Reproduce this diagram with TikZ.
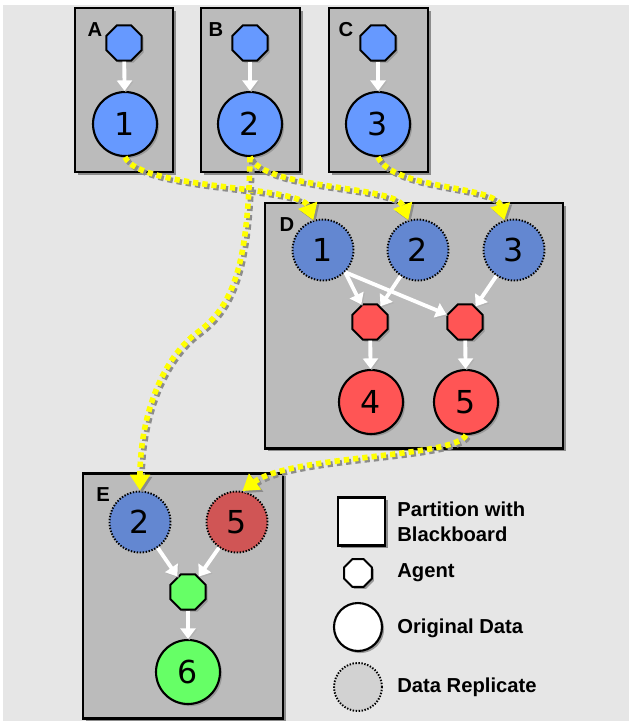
\documentclass[tikz,border=0pt]{standalone}
\usepackage{fontspec}
\setmainfont{Liberation Sans}
\newfontfamily\numfont{DejaVu Sans}
\usepackage{tikz}
\usetikzlibrary{shapes.geometric,arrows.meta,shadows}

\definecolor{paper}{HTML}{E6E6E6}
\definecolor{boxgray}{HTML}{BBBBBB}
\definecolor{origblue}{HTML}{6699FF}
\definecolor{repblue}{HTML}{6387D1}
\definecolor{origred}{HTML}{FF5555}
\definecolor{repred}{HTML}{D05555}
\definecolor{origgreen}{HTML}{66FF66}
\definecolor{repgray}{HTML}{D2D2D2}
\definecolor{linkyellow}{HTML}{FFFF00}

\tikzset{
  castshadow/.style={drop shadow={shadow xshift=1.2pt,shadow yshift=-1.2pt,fill=black!40,opacity=1}},
  partition/.style={draw,line width=1.7pt,fill=boxgray,
    drop shadow={shadow xshift=1.7pt,shadow yshift=-1.7pt,fill=black!45,opacity=1}},
  tag/.style={font=\bfseries\fontsize{11.5}{11.5}\selectfont,inner sep=0pt},
  agent/.style={regular polygon,regular polygon sides=8,draw,line width=1.1pt,
    minimum size=0.76cm,inner sep=0pt,castshadow},
  datum/.style={circle,draw,line width=1.2pt,minimum size=1.28cm,inner sep=0pt,
    font=\numfont\fontsize{18}{18}\selectfont,castshadow},
  replica/.style={circle,draw,line width=1.1pt,dash pattern=on 0.8pt off 0.9pt,
    minimum size=1.22cm,inner sep=0pt,font=\numfont\fontsize{18}{18}\selectfont},
  flow/.style={draw=white,line width=2.2pt,-{Triangle[width=8.5pt,length=6pt]},
    preaction={draw=black!30,transform canvas={xshift=0.7pt,yshift=-0.7pt}}},
  feed/.style={draw=linkyellow,line width=3.2pt,dash pattern=on 3pt off 2.3pt,
    -{Triangle[width=11pt,length=9pt]},
    preaction={draw=black!45,line width=3.2pt,dash pattern=on 3pt off 2.3pt,
      transform canvas={xshift=1.2pt,yshift=-1.2pt}}},
  legtext/.style={anchor=west,font=\bfseries\fontsize{11.5}{14.5}\selectfont,align=left,inner sep=0pt},
}

\begin{document}
\begin{tikzpicture}[x=0.02cm,y=-0.02cm]
\useasboundingbox (0,0) rectangle (629,721);
\fill[white] (0,0) rectangle (629,721);
\fill[paper] (3,5) rectangle (629,721);

% partitions
\draw[partition] (75,8) rectangle (173,172);
\draw[partition] (201,8) rectangle (300,172);
\draw[partition] (329,8) rectangle (428,172);
\draw[partition] (265,203) rectangle (563,448);
\draw[partition] (83,473) rectangle (283,718);
\node[tag] (lab-a) at (95,30) {A};
\node[tag] (lab-b) at (216,30) {B};
\node[tag] (lab-c) at (346,30) {C};
\node[tag] (lab-d) at (287,225) {D};
\node[tag] (lab-e) at (103,495) {E};

% A, B, C: one agent each
\node[agent,fill=origblue] (ag-a) at (124,43) {};
\node[agent,fill=origblue] (ag-b) at (250,43) {};
\node[agent,fill=origblue] (ag-c) at (378,43) {};
\node[datum,fill=origblue] (a1) at (125,124) {1};
\node[datum,fill=origblue] (b2) at (250,124) {2};
\node[datum,fill=origblue] (c3) at (378,124) {3};
\draw[flow] (ag-a) -- (a1);
\draw[flow] (ag-b) -- (b2);
\draw[flow] (ag-c) -- (c3);

% D
\node[replica,fill=repblue] (d1) at (323,250) {1};
\node[replica,fill=repblue] (d2) at (418,250) {2};
\node[replica,fill=repblue] (d3) at (514,250) {3};
\node[agent,fill=origred] (ag-d4) at (370,322) {};
\node[agent,fill=origred] (ag-d5) at (465,322) {};
\node[datum,fill=origred] (d4) at (371,402) {4};
\node[datum,fill=origred] (d5) at (466,402) {5};
\draw[flow] (d1.-45) -- (ag-d4);
\draw[flow] (d2) -- (ag-d4);
\draw[flow] (d1.-45) -- (ag-d5);
\draw[flow] (d3) -- (ag-d5);
\draw[flow] (ag-d4) -- (d4);
\draw[flow] (ag-d5) -- (d5);

% E
\node[replica,fill=repblue] (e2) at (140,522) {2};
\node[replica,fill=repred] (e5) at (237,522) {5};
\node[agent,fill=origgreen] (ag-e) at (188,592) {};
\node[datum,fill=origgreen] (e6) at (188,672) {6};
\draw[flow] (e2) -- (ag-e);
\draw[flow] (e5) -- (ag-e);
\draw[flow] (ag-e) -- (e6);

% replication links
\draw[feed] (a1.south) .. controls (140,190) and (300,185) .. (d1.108);
\draw[feed] (b2.south) .. controls (265,190) and (395,185) .. (d2.108);
\draw[feed] (c3.south) .. controls (393,190) and (495,185) .. (d3.108);
\draw[feed] (b2.south) .. controls (248,260) and (235,305) .. (198,332)
  .. controls (160,360) and (140,420) .. (e2.north);
\draw[feed] (d5.south) .. controls (455,458) and (290,455) .. (e5.80);

% legend
\draw[partition,fill=white] (338,497) rectangle (385,545);
\node[agent,fill=white,minimum size=0.6cm] (key-agent) at (358,573) {};
\node[datum,fill=white,minimum size=0.96cm] (key-orig) at (358,627) {};
\node[replica,fill=repgray,minimum size=0.96cm] (key-rep) at (358,687) {};
\node[legtext] (txt-part) at (397,522) {Partition with\\Blackboard};
\node[legtext] (txt-agent) at (397,573) {Agent};
\node[legtext] (txt-orig) at (397,628) {Original Data};
\node[legtext] (txt-rep) at (397,687) {Data Replicate};
\end{tikzpicture}
\end{document}
